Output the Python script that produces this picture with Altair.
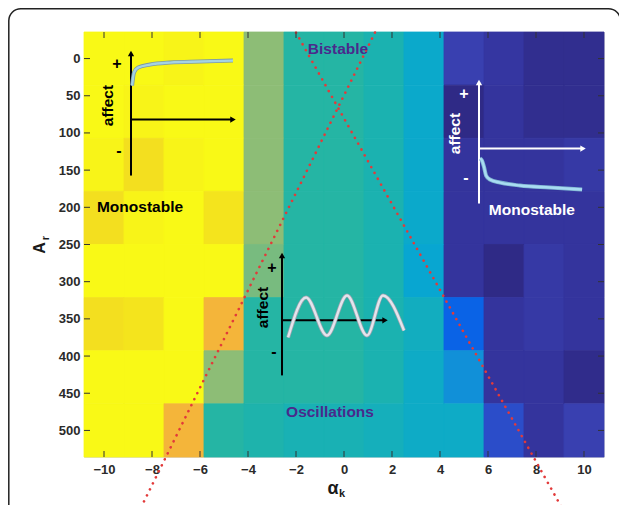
import altair as alt
import pandas as pd

# ---------------- data ----------------
alpha_k = [-10, -8.333, -6.667, -5, -3.333, -1.667, 0, 1.667, 3.333, 5, 6.667, 8.333, 10]
A_r = [0, 71.43, 142.86, 214.29, 285.71, 357.14, 428.57, 500]

# cell values (rows = A_r, cols = alpha_k), 0 = darkest blue, 1 = yellow
Z = [
    [1.00, 1.00, 0.99, 1.00, 0.72, 0.62, 0.62, 0.59, 0.50, 0.10, 0.06, 0.02, 0.02],
    [1.00, 0.99, 1.00, 1.00, 0.72, 0.62, 0.62, 0.59, 0.50, 0.00, 0.05, 0.02, 0.02],
    [0.99, 0.95, 0.99, 1.00, 0.72, 0.62, 0.62, 0.59, 0.50, 0.05, 0.05, 0.05, 0.07],
    [0.95, 0.99, 1.00, 0.96, 0.72, 0.62, 0.62, 0.59, 0.50, 0.05, 0.05, 0.05, 0.05],
    [1.00, 1.00, 1.00, 1.00, 0.70, 0.62, 0.62, 0.59, 0.46, 0.05, 0.00, 0.07, 0.05],
    [0.95, 0.96, 1.00, 0.85, 0.62, 0.62, 0.62, 0.59, 0.55, 0.25, 0.05, 0.07, 0.05],
    [1.00, 1.00, 1.00, 0.72, 0.62, 0.62, 0.62, 0.59, 0.53, 0.35, 0.05, 0.05, 0.01],
    [1.00, 1.00, 0.85, 0.62, 0.60, 0.58, 0.58, 0.56, 0.53, 0.53, 0.15, 0.05, 0.10],
]

x_ticks = [-10, -8, -6, -4, -2, 0, 2, 4, 6, 8, 10]
y_ticks = [0, 50, 100, 150, 200, 250, 300, 350, 400, 450, 500]

# red dotted separatrices (alpha_k, A_r end points)
sep_line = ["a", "a", "b", "b"]
sep_x = [1.29, -8.58, -2.0, 9.21]
sep_y = [-35.0, 611.6, -35.0, 611.6]

# inset sketches (in alpha_k / A_r coordinates)
ins1_x = [-8.83, -8.75, -8.58, -8.08, -7.25, -6.0, -4.625]
ins1_y = [36.3, 18.8, 12.1, 8.1, 5.4, 4.0, 2.7]
ins2_x = [5.67, 5.75, 5.83, 5.92, 6.08, 6.5, 7.33, 8.58, 9.92]
ins2_y = [134.4, 137.1, 145.2, 157.3, 162.6, 166.7, 170.7, 173.4, 176.1]
ins3_x = [-2.33, -1.58, -0.71, 0.125, 0.958, 1.625, 2.5]
ins3_y = [375.0, 321.2, 372.3, 318.5, 372.3, 318.5, 365.6]

# inset axes: (name, x_start, y_start, x_end, y_end)
ax_name = ["v1", "h1", "v2", "h2", "v3", "h3"]
ax_x0 = [-8.875, -8.875, 5.625, 5.625, -2.583, -2.583]
ax_y0 = [157.3, 82.0, 194.9, 121.0, 426.0, 352.0]
ax_x1 = [-8.875, -4.625, 5.625, 9.96, -2.583, 1.71]
ax_y1 = [-6.7, 82.0, 32.3, 121.0, 264.8, 352.0]
ax_color = ["black", "black", "white", "white", "black", "black"]

labels_txt = ["Monostable", "Monostable", "Bistable", "Oscillations"]
labels_x = [-8.5, 7.83, -0.25, -0.583]
labels_y = [199.0, 203.0, -13.4, 475.8]
labels_col = ["black", "white", "#4a2a8c", "#4a2a8c"]

sign_txt = ["+", "-", "+", "-", "+", "-"]
sign_x = [-9.46, -9.375, 5.0, 5.08, -3.0, -2.92]
sign_y = [6.7, 123.7, 47.0, 160.0, 281.0, 395.0]
sign_col = ["black", "black", "white", "white", "black", "black"]

affect_x = [-9.83, 4.625, -3.375]
affect_y = [63.2, 100.8, 334.7]
affect_col = ["black", "white", "black"]

# parula-like colour stops
c_dom = [0.0, 0.05, 0.10, 0.15, 0.25, 0.35, 0.46, 0.53, 0.59, 0.62, 0.72, 0.85, 0.95, 1.0]
c_rng = ["#2f2a86", "#34349d", "#3940b0", "#2b4dc9", "#0a63e6", "#1190d8", "#08a6d1",
         "#0eabc6", "#1bb2b0", "#25b5a4", "#8dbd76", "#f4b53a", "#f3df1f", "#f9f916"]

# ---------------- frames ----------------
dx = (alpha_k[1] - alpha_k[0]) / 2
dy = (A_r[1] - A_r[0]) / 2
rows = []
for i, a in enumerate(A_r):
    for j, k in enumerate(alpha_k):
        rows.append({"x0": k - dx, "x1": k + dx, "y0": a - dy, "y1": a + dy, "v": Z[i][j]})
cells = pd.DataFrame(rows)

xs = alt.Scale(domain=[alpha_k[0] - dx, alpha_k[-1] + dx], nice=False, zero=False)
ys = alt.Scale(domain=[A_r[0] - dy, A_r[-1] + dy], nice=False, zero=False, reverse=True)
cscale = alt.Scale(domain=c_dom, range=c_rng, interpolate="rgb")

FONT = "Liberation Sans"

heat = alt.Chart(cells).mark_rect(strokeWidth=0.8).encode(
    x=alt.X("x0:Q", scale=xs, axis=alt.Axis(values=x_ticks, title=None, tickSize=0, domain=False,
                                           grid=False, labelFont=FONT, labelFontSize=13,
                                           labelFontWeight="bold", labelColor="#2a2a2a",
                                           labelPadding=6, labelFlush=False)),
    x2="x1:Q",
    y=alt.Y("y0:Q", scale=ys, axis=alt.Axis(values=y_ticks, title=None, tickSize=0, domain=False,
                                           grid=False, labelFont=FONT, labelFontSize=13,
                                           labelFontWeight="bold", labelColor="#2a2a2a",
                                           labelPadding=4, labelFlush=False)),
    y2="y1:Q",
    color=alt.Color("v:Q", scale=cscale, legend=None),
    stroke=alt.Stroke("v:Q", scale=cscale, legend=None),
)

sep = alt.Chart(pd.DataFrame({"l": sep_line, "x": sep_x, "y": sep_y})).mark_line(
    color="#e23a3a", strokeWidth=2.6, strokeDash=[0.1, 6.6], strokeCap="round", clip=False
).encode(x=alt.X("x:Q", scale=xs), y=alt.Y("y:Q", scale=ys), detail="l:N")

axes_df = pd.DataFrame({"n": ax_name, "x0": ax_x0, "y0": ax_y0, "x1": ax_x1, "y1": ax_y1, "c": ax_color})
inset_axes = alt.Chart(axes_df).mark_rule(strokeWidth=2).encode(
    x=alt.X("x0:Q", scale=xs), y=alt.Y("y0:Q", scale=ys), x2="x1:Q", y2="y1:Q",
    color=alt.Color("c:N", scale=None))

heads_up = alt.Chart(axes_df[axes_df["n"].str.startswith("v")]).mark_point(
    shape="triangle-up", filled=True, size=40, opacity=1).encode(
    x=alt.X("x1:Q", scale=xs), y=alt.Y("y1:Q", scale=ys), color=alt.Color("c:N", scale=None))
heads_right = alt.Chart(axes_df[axes_df["n"].str.startswith("h")]).mark_point(
    shape="triangle-right", filled=True, size=40, opacity=1).encode(
    x=alt.X("x1:Q", scale=xs), y=alt.Y("y1:Q", scale=ys), color=alt.Color("c:N", scale=None))

def curve(xv, yv, col, edge, interp):
    d = pd.DataFrame({"x": xv, "y": yv, "o": list(range(len(xv)))})
    base = alt.Chart(d).encode(x=alt.X("x:Q", scale=xs), y=alt.Y("y:Q", scale=ys), order="o:Q")
    return base.mark_line(color=edge, strokeWidth=4, interpolate=interp) + \
        base.mark_line(color=col, strokeWidth=2.4, interpolate=interp)

c1 = curve(ins1_x, ins1_y, "#a5d3e2", "#7d9aa3", "monotone")
c2 = curve(ins2_x, ins2_y, "#a8dcf2", "#7fb3d0", "monotone")
c3 = curve(ins3_x, ins3_y, "#e4e4ec", "#9aa4b0", "monotone")

labels = alt.Chart(pd.DataFrame({"t": labels_txt, "x": labels_x, "y": labels_y, "c": labels_col})).mark_text(
    font=FONT, fontSize=15.5, fontWeight="bold").encode(
    x=alt.X("x:Q", scale=xs), y=alt.Y("y:Q", scale=ys), text="t:N", color=alt.Color("c:N", scale=None))

signs = alt.Chart(pd.DataFrame({"t": sign_txt, "x": sign_x, "y": sign_y, "c": sign_col})).mark_text(
    font=FONT, fontSize=16, fontWeight="bold").encode(
    x=alt.X("x:Q", scale=xs), y=alt.Y("y:Q", scale=ys), text="t:N", color=alt.Color("c:N", scale=None))

affect = alt.Chart(pd.DataFrame({"x": affect_x, "y": affect_y, "c": affect_col})).mark_text(
    text="affect", font=FONT, fontSize=15.5, fontWeight="bold", angle=270).encode(
    x=alt.X("x:Q", scale=xs), y=alt.Y("y:Q", scale=ys), color=alt.Color("c:N", scale=None))

# inward ticks (MATLAB style) on all four sides
xt = pd.DataFrame({"x": x_ticks})
yt = pd.DataFrame({"y": y_ticks})
tick_style = dict(color="#333333", strokeWidth=1)
tb = alt.Chart(xt).mark_rule(**tick_style).encode(x=alt.X("x:Q", scale=xs), y=alt.value(425), y2=alt.value(419))
tt = alt.Chart(xt).mark_rule(**tick_style).encode(x=alt.X("x:Q", scale=xs), y=alt.value(0), y2=alt.value(6))
tl = alt.Chart(yt).mark_rule(**tick_style).encode(y=alt.Y("y:Q", scale=ys), x=alt.value(0), x2=alt.value(6))
tr = alt.Chart(yt).mark_rule(**tick_style).encode(y=alt.Y("y:Q", scale=ys), x=alt.value(520), x2=alt.value(514))

one = alt.Data(values=[{"a": 1}])
title_style = dict(font=FONT, fontWeight="bold", color="#1a1a1a")
xt_a = alt.Chart(one).mark_text(text="α", fontSize=18, **title_style).encode(x=alt.value(249), y=alt.value(457))
xt_k = alt.Chart(one).mark_text(text="k", fontSize=11, **title_style).encode(x=alt.value(258), y=alt.value(462))
yt_a = alt.Chart(one).mark_text(text="A", fontSize=16, angle=270, **title_style).encode(x=alt.value(-44), y=alt.value(216))
yt_r = alt.Chart(one).mark_text(text="r", fontSize=11, angle=270, **title_style).encode(x=alt.value(-38), y=alt.value(206))

frame = alt.Chart(one).mark_rect(filled=False, stroke="#222222", strokeWidth=1.5, cornerRadius=12,
                                   clip=False).encode(
    x=alt.value(-75.2), x2=alt.value(536.5), y=alt.value(-23.2), y2=alt.value(520))

chart = alt.layer(
    heat, sep, inset_axes, heads_up, heads_right, c1, c2, c3, labels, signs, affect,
    tb, tt, tl, tr, xt_a, xt_k, yt_a, yt_r, frame
).properties(
    width=520, height=425,
    autosize=alt.AutoSizeParams(type="none"),
    padding={"left": 76, "top": 24, "right": 15, "bottom": 48},
).configure_view(stroke="#2a2a2a", strokeWidth=1).configure(background="white")

chart.save("out.html", embed_options={"renderer": "svg", "actions": False})
